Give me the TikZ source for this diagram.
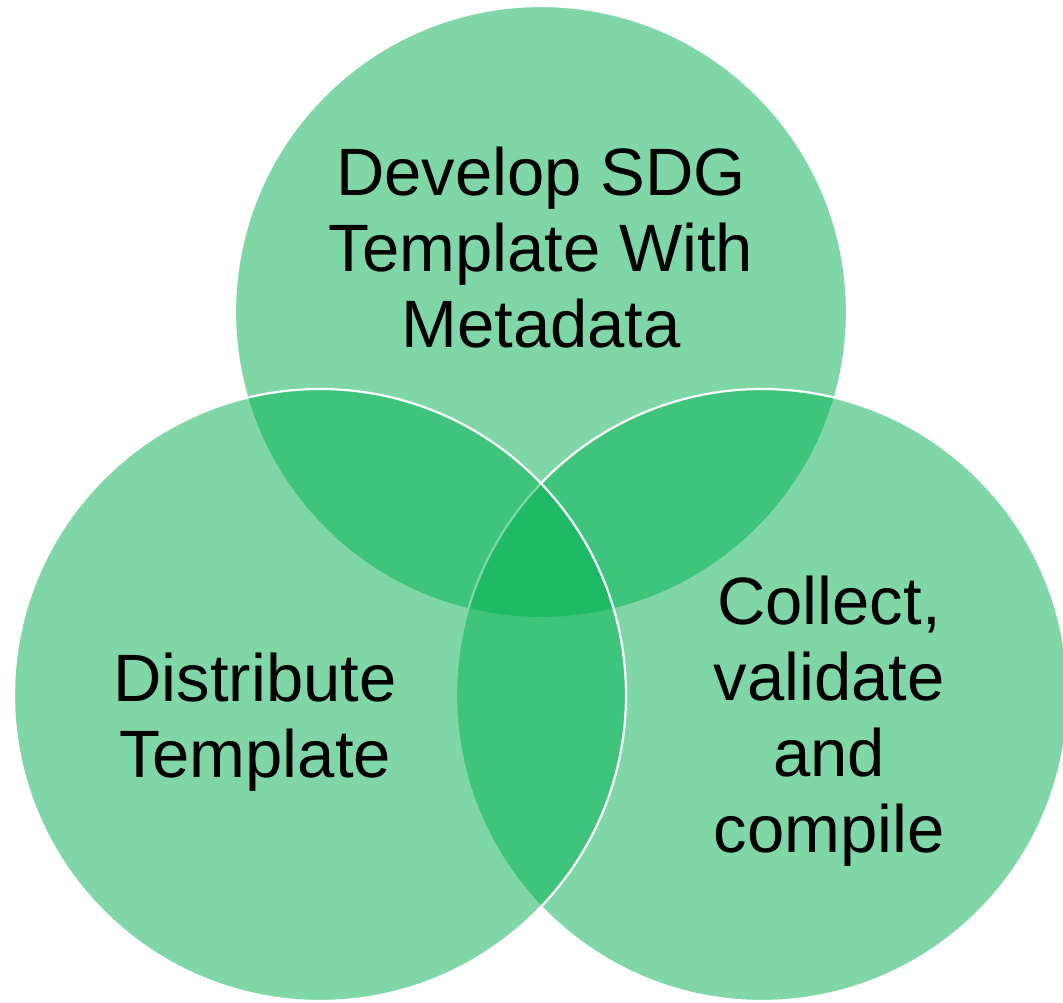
\documentclass[tikz,border=0pt]{standalone}
\usepackage{fontspec}
\setmainfont{Liberation Sans}
\definecolor{vgreen}{HTML}{00B050}
\begin{document}
\begin{tikzpicture}[x=1pt,y=-1pt,
  venn/.style={circle, minimum size=612pt, inner sep=0pt, fill=vgreen, fill opacity=0.5, draw=white, draw opacity=1, line width=2.2pt},
  lbl/.style={align=center, anchor=base, font=\fontsize{67}{76}\selectfont, text=black, inner sep=0pt}]
\useasboundingbox (0,0) rectangle (1063,1002);
\clip (0,0) rectangle (1063,1002);
\node[venn] (top) at (541,312) {};
\node[venn] (right) at (762,695) {};
\node[venn] (left) at (320,695) {};
\node[lbl] (ttop) at (541,347) {Develop SDG\\Template With\\Metadata};
\node[lbl] (tleft) at (255,777) {Distribute\\Template};
\node[lbl] (tright) at (829,852) {Collect,\\validate\\and\\compile};
\end{tikzpicture}
\end{document}
